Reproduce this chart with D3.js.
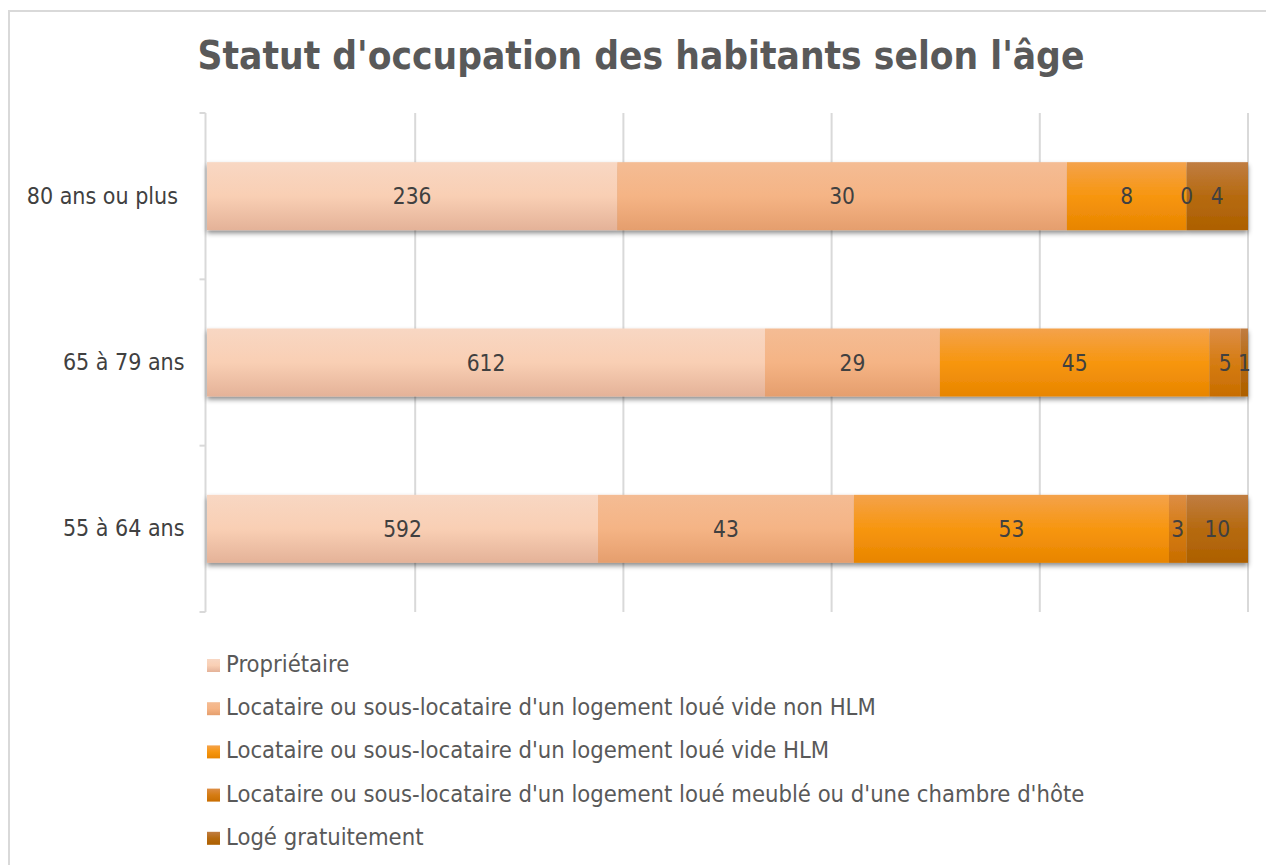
<!DOCTYPE html>
<html>
<head>
<meta charset="utf-8">
<script src="https://cdn.jsdelivr.net/npm/d3@7"></script>
<style>
  body { margin: 0; background: #fff; }
  svg text { font-family: "DejaVu Sans Condensed", "DejaVu Sans", sans-serif; white-space: pre; }
</style>
</head>
<body>
<svg id="chart"></svg>
<script>
// Data
let categories = ["80 ans ou plus ", "65 à 79 ans", "55 à 64 ans"];
let series = [
    "Propriétaire",
    "Locataire ou sous-locataire d'un logement loué vide non HLM",
    "Locataire ou sous-locataire d'un logement loué vide HLM",
    "Locataire ou sous-locataire d'un logement loué meublé ou d'une chambre d'hôte",
    "Logé gratuitement"
];
// bar shares in % (as drawn)
let proprietaire = [39.4, 53.6, 37.6];
let videNonHlm = [43.2, 16.8, 24.6];
let videHlm = [11.5, 25.9, 30.3];
let meuble = [0, 3.0, 1.7];
let gratuit = [5.9, 0.7, 5.9];
// data labels shown on the bars
let proprietaireLbl = [236, 612, 592];
let videNonHlmLbl = [30, 29, 43];
let videHlmLbl = [8, 45, 53];
let meubleLbl = [0, 5, 3];
let gratuitLbl = [4, 1, 10];
let xTicks = [0, 0.2, 0.4, 0.6, 0.8, 1];

let shares = [proprietaire, videNonHlm, videHlm, meuble, gratuit];
let labels = [proprietaireLbl, videNonHlmLbl, videHlmLbl, meubleLbl, gratuitLbl];

let rows = categories.map((c, i) => {
    let r = { cat: c };
    series.forEach((s, j) => { r[s] = shares[j][i]; });
    return r;
});

// SVG Size
let width = 1266;
let height = 865;

let svg = d3.select("#chart")
    .attr("width", width)
    .attr("height", height);

// gradients + shadow
let grads = [
    ["#f8d7c3", "#f9cfb4", "#e4b298"],
    ["#f4bc94", "#f5b485", "#e59e6d"],
    ["#f4a24b", "#f7960f", "#e88500"],
    ["#dd8d45", "#d57c13", "#c86d00"],
    ["#c07d42", "#b66a10", "#ad6000"]
];
let defs = svg.append("defs");
grads.forEach((g, i) => {
    let lg = defs.append("linearGradient")
        .attr("id", "g" + i)
        .attr("x1", 0).attr("y1", 0).attr("x2", 0).attr("y2", 1);
    lg.append("stop").attr("offset", "0%").attr("stop-color", g[0]);
    lg.append("stop").attr("offset", "50%").attr("stop-color", g[1]);
    lg.append("stop").attr("offset", "100%").attr("stop-color", g[2]);
});
defs.append("filter")
    .attr("id", "shadow")
    .attr("x", "-5%").attr("y", "-20%").attr("width", "110%").attr("height", "150%")
    .append("feDropShadow")
    .attr("dx", 0).attr("dy", 3).attr("stdDeviation", 2.5)
    .attr("flood-color", "#000").attr("flood-opacity", 0.45);

// chart border
svg.append("rect")
    .attr("x", 9).attr("y", 11)
    .attr("width", 1270).attr("height", 870)
    .attr("fill", "none")
    .attr("stroke", "#d9d9d9")
    .attr("stroke-width", 2);

// title
svg.append("text")
    .attr("x", 641).attr("y", 69)
    .attr("text-anchor", "middle")
    .attr("font-size", 38.5)
    .attr("font-weight", "bold")
    .attr("fill", "#595959")
    .text("Statut d'occupation des habitants selon l'âge");

// Scales
let x = d3.scaleLinear().domain([0, 1]).range([207, 1248]);
let y = d3.scaleBand().domain(categories).range([113, 612]);
let barH = 68;

// gridlines
svg.append("g")
    .selectAll("line")
    .data(xTicks)
    .enter()
    .append("line")
    .attr("x1", d => d === 0 ? x(d) - 1.5 : x(d))
    .attr("x2", d => d === 0 ? x(d) - 1.5 : x(d))
    .attr("y1", 113).attr("y2", 612)
    .attr("stroke", "#d9d9d9")
    .attr("stroke-width", 2);

// category axis
let yAxis = svg.append("g")
    .attr("transform", `translate(${x(0) - 1.5},0)`)
    .call(d3.axisLeft(y).tickSize(0).tickPadding(21));
yAxis.select(".domain").remove();
yAxis.selectAll("text")
    .attr("font-size", 23)
    .attr("fill", "#404040")
    .style("font-family", null);
let bounds = [113].concat(categories.map(c => y(c) + y.bandwidth()));
yAxis.selectAll(".sep")
    .data(bounds)
    .enter()
    .append("line")
    .attr("x1", -6).attr("x2", 0)
    .attr("y1", d => d).attr("y2", d => d)
    .attr("stroke", "#d9d9d9")
    .attr("stroke-width", 2);

// stacked bars
let stack = d3.stack().keys(series).offset(d3.stackOffsetExpand);
let layers = stack(rows);

let rowG = svg.selectAll(".row")
    .data(categories)
    .enter()
    .append("g")
    .attr("filter", "url(#shadow)");

rowG.each(function(c, i) {
    d3.select(this).selectAll("rect")
        .data(layers.map((l, j) => ({ j: j, v: l[i] })))
        .enter()
        .append("rect")
        .attr("x", d => x(d.v[0]))
        .attr("width", d => x(d.v[1]) - x(d.v[0]))
        .attr("y", y(c) + (y.bandwidth() - barH) / 2)
        .attr("height", barH)
        .attr("fill", d => `url(#g${d.j})`);
});

// data labels
layers.forEach((l, j) => {
    svg.append("g")
        .selectAll("text")
        .data(l)
        .enter()
        .append("text")
        .attr("x", d => x((d[0] + d[1]) / 2))
        .attr("y", d => y(d.data.cat) + y.bandwidth() / 2)
        .attr("dy", "0.36em")
        .attr("text-anchor", "middle")
        .attr("font-size", 22.5)
        .attr("fill", "#404040")
        .text((d, i) => labels[j][i]);
});

// legend
let legend = svg.append("g")
    .selectAll("g")
    .data(series)
    .enter()
    .append("g")
    .attr("transform", (d, i) => `translate(207,${672 + i * 43.2})`);
legend.append("rect")
    .attr("x", 0).attr("y", -13)
    .attr("width", 13).attr("height", 13)
    .attr("fill", (d, i) => `url(#g${i})`);
legend.append("text")
    .attr("x", 19)
    .attr("font-size", 23.6)
    .attr("fill", "#595959")
    .text(d => d);
</script>
</body>
</html>
